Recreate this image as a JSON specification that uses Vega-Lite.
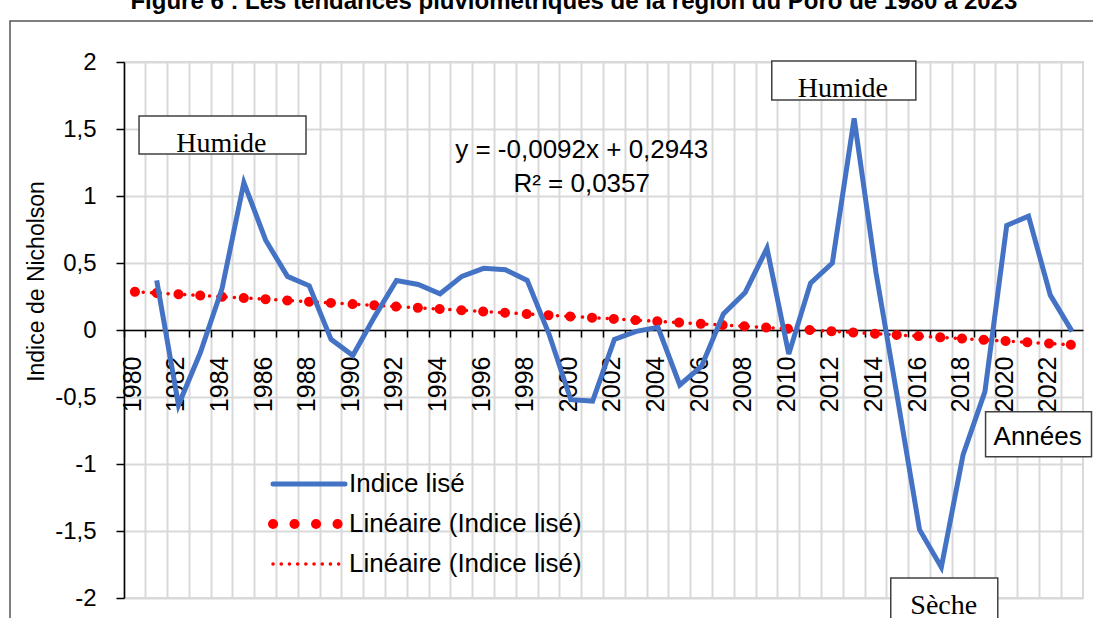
{
  "$schema": "https://vega.github.io/schema/vega-lite/v6.json",
  "width": 959,
  "height": 536,
  "autosize": {"type": "none"},
  "padding": {"left": 124, "top": 62, "right": 10, "bottom": 20},
  "background": "white",
  "config": {
    "view": {"stroke": "#d9d9d9", "strokeWidth": 2},
    "font": "Liberation Sans"
  },
  "datasets": {
    "series": [
      {"annee": 1980, "indice": null, "lineaire": 0.2851},
      {"annee": 1981, "indice": 0.37, "lineaire": 0.2759},
      {"annee": 1982, "indice": -0.56, "lineaire": 0.2667},
      {"annee": 1983, "indice": -0.17, "lineaire": 0.2575},
      {"annee": 1984, "indice": 0.31, "lineaire": 0.2483},
      {"annee": 1985, "indice": 1.10, "lineaire": 0.2391},
      {"annee": 1986, "indice": 0.67, "lineaire": 0.2299},
      {"annee": 1987, "indice": 0.40, "lineaire": 0.2207},
      {"annee": 1988, "indice": 0.33, "lineaire": 0.2115},
      {"annee": 1989, "indice": -0.07, "lineaire": 0.2023},
      {"annee": 1990, "indice": -0.19, "lineaire": 0.1931},
      {"annee": 1991, "indice": 0.10, "lineaire": 0.1839},
      {"annee": 1992, "indice": 0.37, "lineaire": 0.1747},
      {"annee": 1993, "indice": 0.34, "lineaire": 0.1655},
      {"annee": 1994, "indice": 0.27, "lineaire": 0.1563},
      {"annee": 1995, "indice": 0.40, "lineaire": 0.1471},
      {"annee": 1996, "indice": 0.46, "lineaire": 0.1379},
      {"annee": 1997, "indice": 0.45, "lineaire": 0.1287},
      {"annee": 1998, "indice": 0.37, "lineaire": 0.1195},
      {"annee": 1999, "indice": -0.03, "lineaire": 0.1103},
      {"annee": 2000, "indice": -0.52, "lineaire": 0.1011},
      {"annee": 2001, "indice": -0.53, "lineaire": 0.0919},
      {"annee": 2002, "indice": -0.07, "lineaire": 0.0827},
      {"annee": 2003, "indice": -0.01, "lineaire": 0.0735},
      {"annee": 2004, "indice": 0.02, "lineaire": 0.0643},
      {"annee": 2005, "indice": -0.41, "lineaire": 0.0551},
      {"annee": 2006, "indice": -0.27, "lineaire": 0.0459},
      {"annee": 2007, "indice": 0.12, "lineaire": 0.0367},
      {"annee": 2008, "indice": 0.28, "lineaire": 0.0275},
      {"annee": 2009, "indice": 0.61, "lineaire": 0.0183},
      {"annee": 2010, "indice": -0.18, "lineaire": 0.0091},
      {"annee": 2011, "indice": 0.35, "lineaire": -0.0001},
      {"annee": 2012, "indice": 0.50, "lineaire": -0.0093},
      {"annee": 2013, "indice": 1.58, "lineaire": -0.0185},
      {"annee": 2014, "indice": 0.43, "lineaire": -0.0277},
      {"annee": 2015, "indice": -0.52, "lineaire": -0.0369},
      {"annee": 2016, "indice": -1.49, "lineaire": -0.0461},
      {"annee": 2017, "indice": -1.77, "lineaire": -0.0553},
      {"annee": 2018, "indice": -0.93, "lineaire": -0.0645},
      {"annee": 2019, "indice": -0.46, "lineaire": -0.0737},
      {"annee": 2020, "indice": 0.78, "lineaire": -0.0829},
      {"annee": 2021, "indice": 0.85, "lineaire": -0.0921},
      {"annee": 2022, "indice": 0.26, "lineaire": -0.1013},
      {"annee": 2023, "indice": -0.01, "lineaire": -0.1105}
    ],
    "boites": [
      {"label": "Humide", "style": "serif", "x1": 0.69, "x2": 8.35, "y1": 1.597, "y2": 1.313, "tx": 4.47, "ty": 1.33},
      {"label": "Humide", "style": "serif", "x1": 29.72, "x2": 36.33, "y1": 2.007, "y2": 1.716, "tx": 32.98, "ty": 1.74},
      {"label": "Sèche", "style": "serif", "x1": 35.18, "x2": 40.09, "y1": -1.851, "y2": -2.2, "tx": 37.61, "ty": -2.12},
      {"label": "Années", "style": "sans", "x1": 39.53, "x2": 44.39, "y1": -0.61, "y2": -0.946, "tx": 41.92, "ty": -0.86}
    ],
    "textes": [
      {"label": "y = -0,0092x + 0,2943", "role": "equation", "tx": 21.0, "ty": 1.284},
      {"label": "R² = 0,0357", "role": "equation", "tx": 21.0, "ty": 1.03},
      {"label": "Figure 6 : Les tendances pluviométriques de la région du Poro de 1980 à 2023", "role": "titre", "tx": 20.64, "ty": 2.396}
    ],
    "cadre": [{"x1": -5.23, "x2": 45.5, "y1": 2.306, "y2": -2.4}]
  },
  "resolve": {"scale": {"x": "independent", "y": "independent"}, "axis": {"x": "independent", "y": "independent"}},
  "layer": [
    {
      "data": {"name": "series"},
      "layer": [
        {
          "mark": {"type": "line", "strokeWidth": 3.5, "strokeDash": [0.1, 8.2], "strokeCap": "round"},
          "encoding": {
            "x": {
              "field": "annee", "type": "ordinal", "title": null,
              "scale": {"type": "band", "paddingInner": 0, "paddingOuter": 0},
              "axis": {"orient": "bottom", "offset": -268, "bandPosition": 0, "grid": true, "gridColor": "#d9d9d9", "gridWidth": 2, "domainColor": "black", "domainWidth": 1.5, "tickColor": "black", "tickSize": 7, "tickWidth": 1.5, "labelAngle": 270, "labelOffset": -2, "labelPadding": 19, "labelFont": "Liberation Sans", "labelFontSize": 25, "labelColor": "black", "labelOverlap": false, "labelExpr": "datum.value % 2 == 0 ? '' + datum.value : ''", "title": null}
            },
            "y": {
              "field": "lineaire", "type": "quantitative", "title": "Indice de Nicholson",
              "scale": {"domain": [-2, 2], "nice": false, "zero": false},
              "axis": {"values": [-2, -1.5, -1, -0.5, 0, 0.5, 1, 1.5, 2], "grid": true, "gridColor": "#d9d9d9", "gridWidth": 2, "domainColor": "black", "domainWidth": 1.5, "tickColor": "black", "tickSize": 8, "tickWidth": 1.5, "labelFont": "Liberation Sans", "labelFontSize": 24, "labelColor": "black", "labelPadding": 20, "labelExpr": "replace('' + datum.value, '.', ',')", "title": "Indice de Nicholson", "titleFont": "Liberation Sans", "titleFontSize": 23, "titleFontWeight": "normal", "titleColor": "black", "titleAngle": 270, "titleX": -88, "titleY": 219, "titleAlign": "center", "titleBaseline": "middle"}
            },
            "color": {
              "datum": "lin_fin",
              "type": "nominal",
              "scale": {"domain": ["indice", "lin_gros", "lin_fin"], "range": ["#4472C4", "#FF0000", "#FF0000"]},
              "legend": {
                "orient": "none",
                "legendX": 172,
                "legendY": 409,
                "title": null,
                "padding": 0,
                "symbolType": "stroke",
                "symbolSize": 5184,
                "labelFont": "Liberation Sans",
                "labelFontSize": 26,
                "labelColor": "black",
                "labelOffset": 27,
                "labelLimit": 500,
                "rowPadding": 7,
                "labelExpr": "datum.value == 'indice' ? 'Indice lisé' : 'Linéaire (Indice lisé)'",
                "encode": {
                  "symbols": {
                    "update": {
                      "strokeWidth": {"signal": "datum.value == 'indice' ? 5 : datum.value == 'lin_gros' ? 10 : 3.5"},
                      "strokeDash": {"signal": "datum.value == 'indice' ? [] : datum.value == 'lin_gros' ? [0.1, 21.4] : [0.1, 8.1]"},
                      "strokeCap": {"value": "round"}
                    }
                  }
                }
              }
            }
          }
        },
        {
          "mark": {"type": "line", "strokeWidth": 10, "strokeDash": [0.1, 21.7], "strokeCap": "round"},
          "encoding": {
            "x": {
              "field": "annee", "type": "ordinal", "title": null,
              "axis": {"orient": "bottom", "offset": -268, "bandPosition": 0, "grid": true, "gridColor": "#d9d9d9", "gridWidth": 2, "domainColor": "black", "domainWidth": 1.5, "tickColor": "black", "tickSize": 7, "tickWidth": 1.5, "labelAngle": 270, "labelOffset": -2, "labelPadding": 19, "labelFont": "Liberation Sans", "labelFontSize": 25, "labelColor": "black", "labelOverlap": false, "labelExpr": "datum.value % 2 == 0 ? '' + datum.value : ''", "title": null}
            },
            "y": {
              "field": "lineaire", "type": "quantitative", "title": "Indice de Nicholson",
              "axis": {"values": [-2, -1.5, -1, -0.5, 0, 0.5, 1, 1.5, 2], "grid": true, "gridColor": "#d9d9d9", "gridWidth": 2, "domainColor": "black", "domainWidth": 1.5, "tickColor": "black", "tickSize": 8, "tickWidth": 1.5, "labelFont": "Liberation Sans", "labelFontSize": 24, "labelColor": "black", "labelPadding": 20, "labelExpr": "replace('' + datum.value, '.', ',')", "title": "Indice de Nicholson", "titleFont": "Liberation Sans", "titleFontSize": 23, "titleFontWeight": "normal", "titleColor": "black", "titleAngle": 270, "titleX": -88, "titleY": 219, "titleAlign": "center", "titleBaseline": "middle"}
            },
            "color": {"datum": "lin_gros", "type": "nominal"}
          }
        },
        {
          "mark": {"type": "line", "strokeWidth": 5},
          "encoding": {
            "x": {
              "field": "annee", "type": "ordinal", "title": null,
              "axis": {"orient": "bottom", "offset": -268, "bandPosition": 0, "grid": true, "gridColor": "#d9d9d9", "gridWidth": 2, "domainColor": "black", "domainWidth": 1.5, "tickColor": "black", "tickSize": 7, "tickWidth": 1.5, "labelAngle": 270, "labelOffset": -2, "labelPadding": 19, "labelFont": "Liberation Sans", "labelFontSize": 25, "labelColor": "black", "labelOverlap": false, "labelExpr": "datum.value % 2 == 0 ? '' + datum.value : ''", "title": null}
            },
            "y": {
              "field": "indice", "type": "quantitative", "title": "Indice de Nicholson",
              "axis": {"values": [-2, -1.5, -1, -0.5, 0, 0.5, 1, 1.5, 2], "grid": true, "gridColor": "#d9d9d9", "gridWidth": 2, "domainColor": "black", "domainWidth": 1.5, "tickColor": "black", "tickSize": 8, "tickWidth": 1.5, "labelFont": "Liberation Sans", "labelFontSize": 24, "labelColor": "black", "labelPadding": 20, "labelExpr": "replace('' + datum.value, '.', ',')", "title": "Indice de Nicholson", "titleFont": "Liberation Sans", "titleFontSize": 23, "titleFontWeight": "normal", "titleColor": "black", "titleAngle": 270, "titleX": -88, "titleY": 219, "titleAlign": "center", "titleBaseline": "middle"}
            },
            "color": {"datum": "indice", "type": "nominal"}
          }
        }
      ]
    },
    {
      "layer": [
        {
          "data": {"name": "cadre"},
          "mark": {"type": "rect", "fill": null, "fillOpacity": 0, "stroke": "#555555", "strokeWidth": 1.5},
          "encoding": {
            "x": {"field": "x1", "type": "quantitative", "scale": {"domain": [0, 44], "nice": false, "zero": false}, "axis": null},
            "x2": {"field": "x2"},
            "y": {"field": "y1", "type": "quantitative", "scale": {"domain": [-2, 2], "nice": false, "zero": false}, "axis": null},
            "y2": {"field": "y2"}
          }
        },
        {
          "data": {"name": "boites"},
          "mark": {"type": "rect", "fill": "white", "stroke": "#404040", "strokeWidth": 1.5},
          "encoding": {
            "x": {"field": "x1", "type": "quantitative", "axis": null},
            "x2": {"field": "x2"},
            "y": {"field": "y1", "type": "quantitative", "axis": null},
            "y2": {"field": "y2"}
          }
        },
        {
          "data": {"name": "boites"},
          "transform": [{"filter": "datum.style == 'serif'"}],
          "mark": {"type": "text", "font": "Liberation Serif", "fontSize": 28, "color": "black", "align": "center", "baseline": "alphabetic"},
          "encoding": {
            "x": {"field": "tx", "type": "quantitative", "axis": null},
            "y": {"field": "ty", "type": "quantitative", "axis": null},
            "text": {"field": "label"}
          }
        },
        {
          "data": {"name": "boites"},
          "transform": [{"filter": "datum.style == 'sans'"}],
          "mark": {"type": "text", "font": "Liberation Sans", "fontSize": 26, "color": "black", "align": "center", "baseline": "alphabetic"},
          "encoding": {
            "x": {"field": "tx", "type": "quantitative", "axis": null},
            "y": {"field": "ty", "type": "quantitative", "axis": null},
            "text": {"field": "label"}
          }
        },
        {
          "data": {"name": "textes"},
          "transform": [{"filter": "datum.role == 'equation'"}],
          "mark": {"type": "text", "font": "Liberation Sans", "fontSize": 26, "color": "black", "align": "center", "baseline": "alphabetic"},
          "encoding": {
            "x": {"field": "tx", "type": "quantitative", "axis": null},
            "y": {"field": "ty", "type": "quantitative", "axis": null},
            "text": {"field": "label"}
          }
        },
        {
          "data": {"name": "textes"},
          "transform": [{"filter": "datum.role == 'titre'"}],
          "mark": {"type": "text", "font": "Liberation Sans", "fontSize": 24, "fontWeight": "bold", "color": "black", "align": "center", "baseline": "alphabetic"},
          "encoding": {
            "x": {"field": "tx", "type": "quantitative", "axis": null},
            "y": {"field": "ty", "type": "quantitative", "axis": null},
            "text": {"field": "label"}
          }
        }
      ]
    }
  ]
}
